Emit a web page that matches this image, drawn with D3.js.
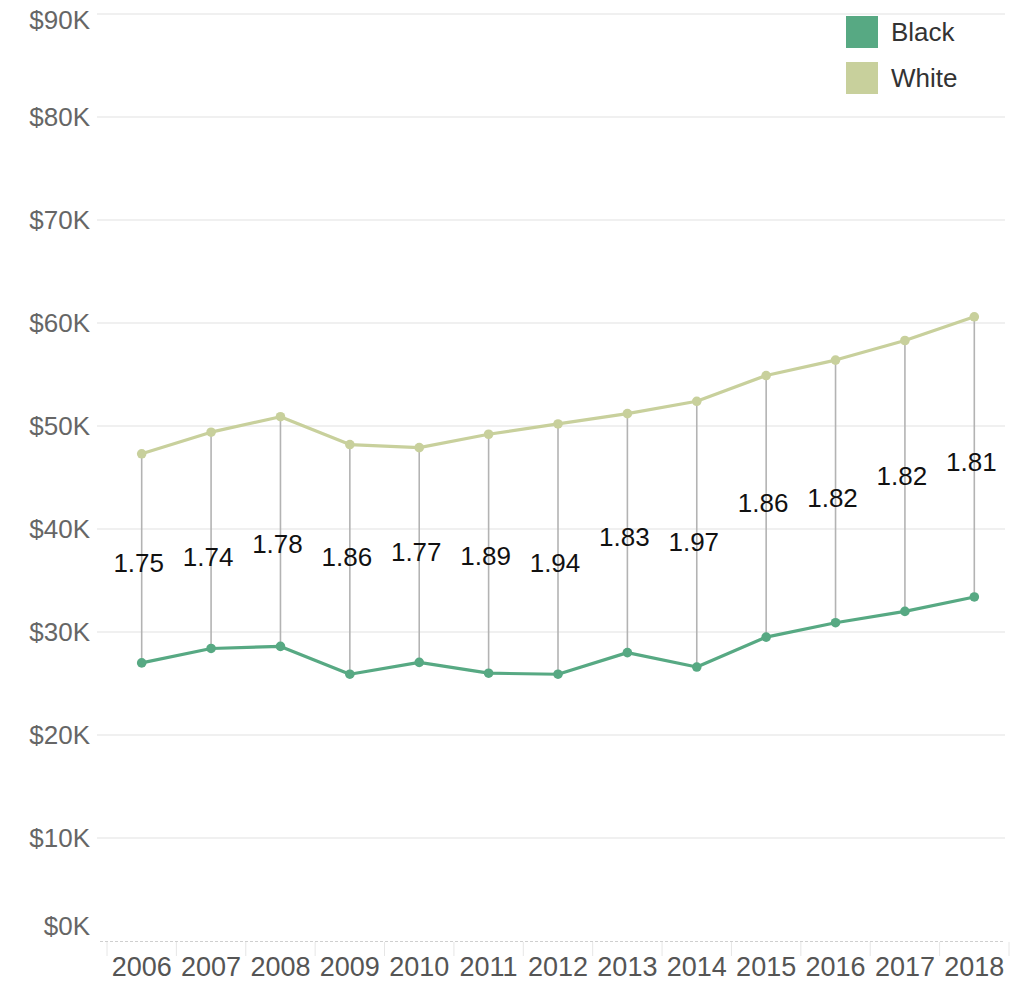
<!DOCTYPE html>
<html><head><meta charset="utf-8">
<script src="https://cdn.jsdelivr.net/npm/d3@7"></script>
<style>
html,body{margin:0;padding:0;background:#fff;}
svg{display:block;font-family:"Liberation Sans",Arial,sans-serif;}
</style></head>
<body>
<svg id="chart" width="1023" height="982"></svg>
<script>
const years = [2006,2007,2008,2009,2010,2011,2012,2013,2014,2015,2016,2017,2018];
const white = [47300,49400,50900,48200,47900,49200,50200,51200,52400,54900,56400,58300,60600];
const black = [27000,28400,28600,25900,27050,26000,25900,28000,26600,29500,30900,32000,33400];
const ratios = ["1.75","1.74","1.78","1.86","1.77","1.89","1.94","1.83","1.97","1.86","1.82","1.82","1.81"];
const ratioLabelAt = [36700,37300,38600,37300,37800,37400,36700,39200,38700,42500,43000,45200,46500];
const yTicks = [0,10000,20000,30000,40000,50000,60000,70000,80000,90000];
const seriesNames = ["Black","White"];
const colors = {Black:"#57a983", White:"#c8d09c"};

const svg = d3.select("#chart");
const x = d3.scaleBand().domain(years).range([107,1009]);
const y = d3.scaleLinear().domain([0,90000]).range([941,14]);
const cx = d => x(d) + x.bandwidth()/2;

// gridlines
svg.append("g").selectAll("line").data(yTicks.filter(t=>t>0)).join("line")
  .attr("x1",97).attr("x2",1005).attr("y1",d=>y(d)).attr("y2",d=>y(d))
  .attr("stroke","#ebebeb").attr("stroke-width",1.5);

// y labels
svg.append("g").selectAll("text").data(yTicks).join("text")
  .attr("x",90).attr("y",d=>{ let p=y(d); if(d===90000) p+=6; if(d===0) p-=15; return p; })
  .attr("dy","0.35em").attr("text-anchor","end")
  .attr("font-size",26).attr("fill","#666")
  .text(d=>"$"+(d/1000)+"K");

// x axis dashed line
svg.append("line").attr("x1",100).attr("x2",1005).attr("y1",941.5).attr("y2",941.5)
  .attr("stroke","#cfcfcf").attr("stroke-width",1).attr("stroke-dasharray","3,2");
// band ticks
const bounds = years.map(d=>x(d)).concat([x(years[years.length-1])+x.bandwidth()]);
svg.append("g").selectAll("line").data(bounds).join("line")
  .attr("x1",d=>d).attr("x2",d=>d).attr("y1",942).attr("y2",956)
  .attr("stroke","#e6e6e6").attr("stroke-width",1);
svg.append("g").selectAll("text").data(years).join("text")
  .attr("x",d=>cx(d)).attr("y",976).attr("text-anchor","middle")
  .attr("font-size",27).attr("fill","#555").text(d=>d);

// connectors
svg.append("g").selectAll("line").data(years).join("line")
  .attr("x1",d=>cx(d)).attr("x2",d=>cx(d))
  .attr("y1",(d,i)=>y(white[i])).attr("y2",(d,i)=>y(black[i]))
  .attr("stroke","#b3b3b3").attr("stroke-width",1.6);

// lines
const line = d3.line().x((d,i)=>cx(years[i])).y(d=>y(d));
[["White",white],["Black",black]].forEach(([name,vals])=>{
  svg.append("path").datum(vals).attr("d",line).attr("fill","none")
    .attr("stroke",colors[name]).attr("stroke-width",3.2).attr("stroke-linejoin","round");
  svg.append("g").selectAll("circle").data(vals).join("circle")
    .attr("cx",(d,i)=>cx(years[i])).attr("cy",d=>y(d)).attr("r",4.8)
    .attr("fill",colors[name]);
});

// ratio labels
svg.append("g").selectAll("text").data(ratios).join("text")
  .attr("x",(d,i)=>cx(years[i])-3).attr("y",(d,i)=>y(ratioLabelAt[i]))
  .attr("dy","0.35em").attr("text-anchor","middle")
  .attr("font-size",26).attr("fill","#111").text(d=>d);

// legend
const lg = svg.append("g").selectAll("g").data(seriesNames).join("g")
  .attr("transform",(d,i)=>`translate(846,${16+i*46})`);
lg.append("rect").attr("width",32).attr("height",32).attr("fill",d=>colors[d]);
lg.append("text").attr("x",45).attr("y",16).attr("dy","0.35em")
  .attr("font-size",26).attr("fill","#333").text(d=>d);
</script>
</body></html>
